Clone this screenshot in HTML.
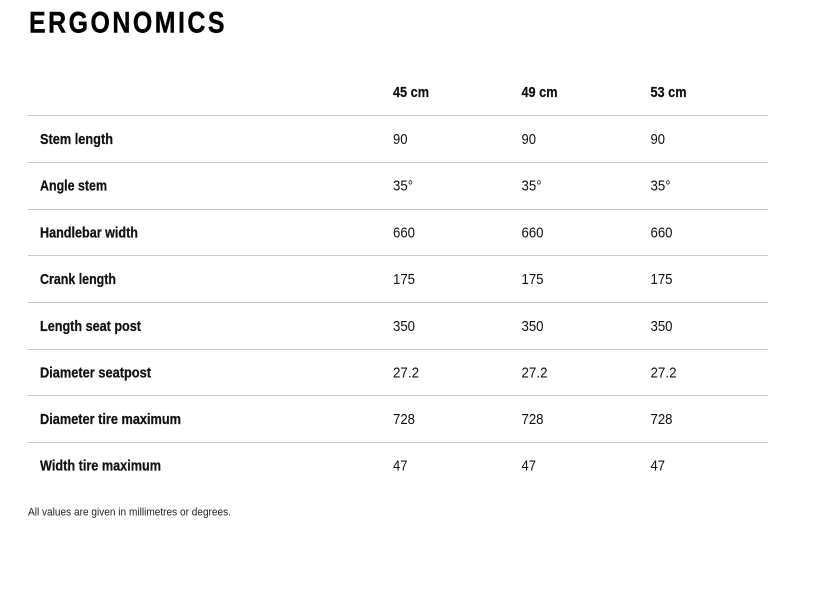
<!DOCTYPE html>
<html>
<head>
<meta charset="utf-8">
<style>
html,body{margin:0;padding:0;background:#fff;}
svg{display:block;}
text{font-family:"Liberation Sans Narrow","Liberation Sans",sans-serif;fill:#111;}
.b{font-weight:bold;font-size:15px;stroke:#111;stroke-width:0.25px;}
.v{font-size:15px;}
</style>
</head>
<body>
<svg width="830" height="600" viewBox="0 0 830 600" xmlns="http://www.w3.org/2000/svg">
<rect width="830" height="600" fill="#fff"/>
<text x="29" y="32.5" style="font-weight:bold;font-size:30px;fill:#000;letter-spacing:3px;stroke:#000;stroke-width:0.4px" textLength="198" lengthAdjust="spacingAndGlyphs">ERGONOMICS</text>

<text class="b" x="393" y="97" textLength="36" lengthAdjust="spacingAndGlyphs">45 cm</text>
<text class="b" x="521.5" y="97" textLength="36" lengthAdjust="spacingAndGlyphs">49 cm</text>
<text class="b" x="650.5" y="97" textLength="36" lengthAdjust="spacingAndGlyphs">53 cm</text>

<g fill="#c8c8c8">
<rect x="28" y="115" width="740" height="1"/>
<rect x="28" y="162" width="740" height="1"/>
<rect x="28" y="209" width="740" height="1"/>
<rect x="28" y="255" width="740" height="1"/>
<rect x="28" y="302" width="740" height="1"/>
<rect x="28" y="349" width="740" height="1"/>
<rect x="28" y="395" width="740" height="1"/>
<rect x="28" y="442" width="740" height="1"/>
</g>

<text class="b" x="40" y="144" textLength="73" lengthAdjust="spacingAndGlyphs">Stem length</text>
<text class="b" x="40" y="190.7" textLength="67" lengthAdjust="spacingAndGlyphs">Angle stem</text>
<text class="b" x="40" y="237.4" textLength="98" lengthAdjust="spacingAndGlyphs">Handlebar width</text>
<text class="b" x="40" y="284" textLength="76" lengthAdjust="spacingAndGlyphs">Crank length</text>
<text class="b" x="40" y="330.8" textLength="101" lengthAdjust="spacingAndGlyphs">Length seat post</text>
<text class="b" x="40" y="377.5" textLength="111" lengthAdjust="spacingAndGlyphs">Diameter seatpost</text>
<text class="b" x="40" y="424" textLength="141" lengthAdjust="spacingAndGlyphs">Diameter tire maximum</text>
<text class="b" x="40" y="470.7" textLength="121" lengthAdjust="spacingAndGlyphs">Width tire maximum</text>

<g>
<text class="v" x="393" y="144" textLength="14.5" lengthAdjust="spacingAndGlyphs">90</text>
<text class="v" x="521.5" y="144" textLength="14.5" lengthAdjust="spacingAndGlyphs">90</text>
<text class="v" x="650.5" y="144" textLength="14.5" lengthAdjust="spacingAndGlyphs">90</text>

<text class="v" x="393" y="190.7" textLength="20" lengthAdjust="spacingAndGlyphs">35°</text>
<text class="v" x="521.5" y="190.7" textLength="20" lengthAdjust="spacingAndGlyphs">35°</text>
<text class="v" x="650.5" y="190.7" textLength="20" lengthAdjust="spacingAndGlyphs">35°</text>

<text class="v" x="393" y="237.4" textLength="22" lengthAdjust="spacingAndGlyphs">660</text>
<text class="v" x="521.5" y="237.4" textLength="22" lengthAdjust="spacingAndGlyphs">660</text>
<text class="v" x="650.5" y="237.4" textLength="22" lengthAdjust="spacingAndGlyphs">660</text>

<text class="v" x="393" y="284" textLength="22" lengthAdjust="spacingAndGlyphs">175</text>
<text class="v" x="521.5" y="284" textLength="22" lengthAdjust="spacingAndGlyphs">175</text>
<text class="v" x="650.5" y="284" textLength="22" lengthAdjust="spacingAndGlyphs">175</text>

<text class="v" x="393" y="330.8" textLength="22" lengthAdjust="spacingAndGlyphs">350</text>
<text class="v" x="521.5" y="330.8" textLength="22" lengthAdjust="spacingAndGlyphs">350</text>
<text class="v" x="650.5" y="330.8" textLength="22" lengthAdjust="spacingAndGlyphs">350</text>

<text class="v" x="393" y="377.5" textLength="26" lengthAdjust="spacingAndGlyphs">27.2</text>
<text class="v" x="521.5" y="377.5" textLength="26" lengthAdjust="spacingAndGlyphs">27.2</text>
<text class="v" x="650.5" y="377.5" textLength="26" lengthAdjust="spacingAndGlyphs">27.2</text>

<text class="v" x="393" y="424" textLength="22" lengthAdjust="spacingAndGlyphs">728</text>
<text class="v" x="521.5" y="424" textLength="22" lengthAdjust="spacingAndGlyphs">728</text>
<text class="v" x="650.5" y="424" textLength="22" lengthAdjust="spacingAndGlyphs">728</text>

<text class="v" x="393" y="470.7" textLength="14.5" lengthAdjust="spacingAndGlyphs">47</text>
<text class="v" x="521.5" y="470.7" textLength="14.5" lengthAdjust="spacingAndGlyphs">47</text>
<text class="v" x="650.5" y="470.7" textLength="14.5" lengthAdjust="spacingAndGlyphs">47</text>
</g>

<text x="28" y="515.5" style="font-size:11px;fill:#222" textLength="203" lengthAdjust="spacingAndGlyphs">All values are given in millimetres or degrees.</text>
</svg>
</body>
</html>
